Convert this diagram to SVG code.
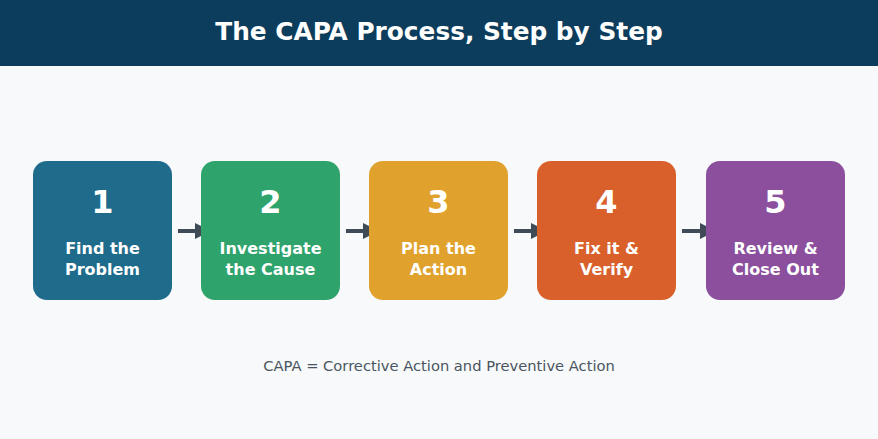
<svg xmlns="http://www.w3.org/2000/svg" width="878" height="439" viewBox="0 0 878 439">
<defs>
<style>
.box{stroke:none}
.num{font-family:"DejaVu Sans",sans-serif;font-weight:bold;font-size:32px;fill:#ffffff;text-anchor:middle}
.lbl{font-family:"DejaVu Sans",sans-serif;font-weight:bold;font-size:16px;fill:#ffffff;text-anchor:middle}
.conn{stroke:#3f4b57;stroke-width:4;fill:none}
</style>
<marker id="ah" viewBox="0 0 10 10" refX="0" refY="5" markerWidth="4" markerHeight="4" orient="auto" markerUnits="strokeWidth">
<path d="M0,0 L10,5 L0,10 z" fill="#3f4b57"/>
</marker>
</defs>
<rect x="0" y="0" width="878" height="439" fill="#f7f9fb"/>
<rect x="0" y="0" width="878" height="66" fill="#0d3d5c"/>
<text x="439" y="40" font-family="DejaVu Sans, sans-serif" font-weight="bold" font-size="24.8" fill="#ffffff" text-anchor="middle">The CAPA Process, Step by Step</text>
<g id="connectors">
<line class="conn" x1="178" y1="231" x2="195" y2="231" marker-end="url(#ah)"/>
<line class="conn" x1="346" y1="231" x2="363" y2="231" marker-end="url(#ah)"/>
<line class="conn" x1="514" y1="231" x2="531" y2="231" marker-end="url(#ah)"/>
<line class="conn" x1="682" y1="231" x2="700" y2="231" marker-end="url(#ah)"/>
</g>
<g id="step1">
<rect class="box" x="33" y="161" width="139" height="139" rx="14" fill="#1f6b8c"/>
<text class="num" x="102.5" y="213">1</text>
<text class="lbl" x="102.5" y="254">Find the</text>
<text class="lbl" x="102.5" y="275">Problem</text>
</g>
<g id="step2">
<rect class="box" x="201" y="161" width="139" height="139" rx="14" fill="#2ea36b"/>
<text class="num" x="270.5" y="213">2</text>
<text class="lbl" x="270.5" y="254">Investigate</text>
<text class="lbl" x="270.5" y="275">the Cause</text>
</g>
<g id="step3">
<rect class="box" x="369" y="161" width="139" height="139" rx="14" fill="#e0a22c"/>
<text class="num" x="438.5" y="213">3</text>
<text class="lbl" x="438.5" y="254">Plan the</text>
<text class="lbl" x="438.5" y="275">Action</text>
</g>
<g id="step4">
<rect class="box" x="537" y="161" width="139" height="139" rx="14" fill="#d9602a"/>
<text class="num" x="606.5" y="213">4</text>
<text class="lbl" x="606.5" y="254">Fix it &amp;</text>
<text class="lbl" x="606.5" y="275">Verify</text>
</g>
<g id="step5">
<rect class="box" x="706" y="161" width="139" height="139" rx="14" fill="#8b4f9e"/>
<text class="num" x="775.5" y="213">5</text>
<text class="lbl" x="775.5" y="254">Review &amp;</text>
<text class="lbl" x="775.5" y="275">Close Out</text>
</g>
<text x="439" y="371" font-family="DejaVu Sans, sans-serif" font-size="14.7" fill="#4a5560" text-anchor="middle">CAPA = Corrective Action and Preventive Action</text>
</svg>
